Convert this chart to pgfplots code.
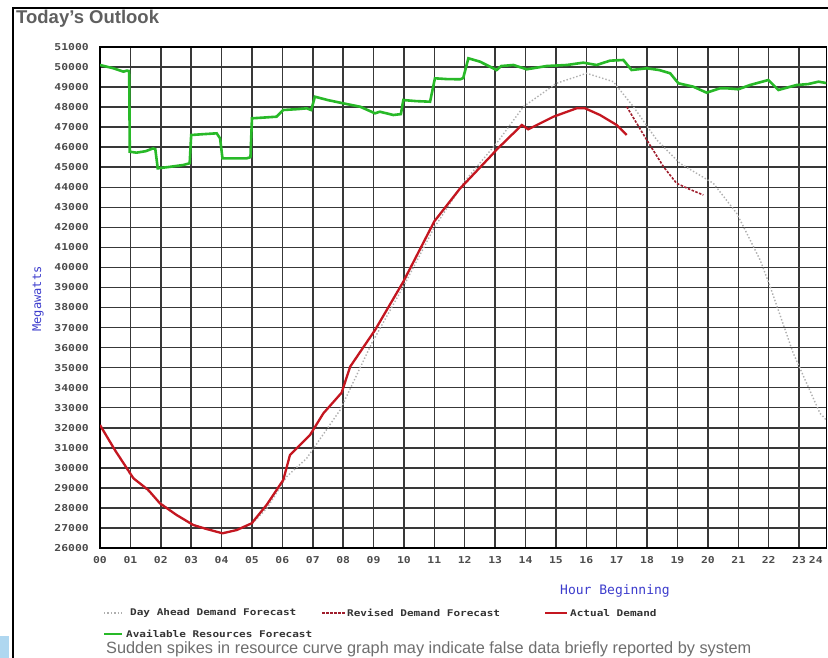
\documentclass[border=0pt]{standalone}
\usepackage{fontspec}
\setmainfont{Liberation Sans}
\newfontfamily\monof[FakeStretch=1.2]{DejaVu Sans Mono}
\newfontfamily\monob{DejaVu Sans Mono}
\usepackage{pgfplots}
\pgfplotsset{compat=1.18}

\definecolor{actred}{RGB}{196,22,32}
\definecolor{revred}{RGB}{160,30,45}
\definecolor{dagray}{RGB}{175,175,175}
\definecolor{resgreen}{RGB}{40,185,40}
\definecolor{labblue}{RGB}{60,60,205}
\definecolor{titlegray}{RGB}{95,95,95}
\definecolor{footgray}{RGB}{110,110,110}
\definecolor{cornerblue}{RGB}{175,215,240}

\begin{document}
\begin{tikzpicture}
\path[use as bounding box] (0pt,0pt) rectangle (828pt,-658pt);
\clip (0pt,0pt) rectangle (828pt,-658pt);
\fill[white] (0pt,0pt) rectangle (828pt,-658pt);
\fill[cornerblue] (0pt,-636pt) rectangle (9pt,-658pt);
\draw[black, line width=1.5pt] (13pt,-8pt) rectangle (850pt,-700pt);

\node[anchor=base west, inner sep=0pt, text=titlegray,
      font=\fontsize{18.5}{20}\selectfont\bfseries] at (16pt,-24pt) {Today's Outlook};

\begin{axis}[
  at={(100pt,-548pt)}, anchor=south west,
  scale only axis, width=726.4pt, height=501pt,
  xmin=0, xmax=23.9, ymin=26000, ymax=51000,
  xtick={0,...,23},
  xticklabels={00,01,02,03,04,05,06,07,08,09,10,11,12,13,14,15,16,17,18,19,20,21,22,23},
  extra x ticks={23.55}, extra x tick labels={24},
  extra x tick style={grid=none},
  ytick={26000,27000,...,51000},
  scaled y ticks=false,
  major tick length=0pt,
  grid=major,
  grid style={black!78, line width=1.5pt},
  axis line style={black, line width=1.8pt},
  /pgf/number format/assume math mode=true,
  /pgf/number format/set thousands separator={},
  tick label style={font=\fontsize{9.5}{10}\selectfont\monof\bfseries, text=black!70, inner sep=0pt},
  yticklabel style={xshift=-11pt},
  xticklabel style={yshift=-8pt},
  clip=true,
]
% Day Ahead Demand Forecast
\addplot[dagray, line width=1.4pt, dotted] coordinates {
(0,32100) (0.5,30850) (1,29650) (1.5,28950) (2,28250) (2.5,27650) (3,27200)
(3.5,26950) (4,26750) (4.5,26900) (5,27200) (5.5,28000) (6.14,29560) (6.8,30475)
(7.9,32886) (8.94,36215) (10,39100) (11,42000) (12,44300) (13.1,46300)
(13.93,48020) (15.02,49188) (16.01,49688) (16.89,49270) (17.55,48020)
(18.32,46360) (19.08,45196) (20.18,44198) (20.95,42700) (21.72,40371)
(22.05,39040) (22.81,35716) (23.69,32720) (23.9,32387)
};
% Revised Demand Forecast
\addplot[revred, line width=1.6pt, dash pattern=on 2.5pt off 1.5pt] coordinates {
(17.33,48020) (17.99,46360) (18.54,45027) (18.97,44198) (19.4,43900) (19.85,43615)
};
% Actual Demand
\addplot[actred, line width=2.3pt] coordinates {
(0,32138) (0.49,30890) (1.1,29478) (1.59,28894) (1.97,28230) (2.52,27647)
(3.07,27147) (3.5,26950) (4.03,26733) (4.5,26897) (4.99,27233) (5.48,28146)
(6.03,29393) (6.25,30640) (6.91,31640) (7.35,32722) (7.95,33750) (8.23,35047)
(9.05,36878) (9.98,39290) (11.0,42300) (11.85,43949) (12.01,44200)
(12.89,45611) (13.05,45880) (13.88,47108) (14.09,46893) (14.92,47522)
(15.68,47940) (15.96,47940) (16.45,47607) (17.0,47108) (17.33,46609)
};
% Available Resources Forecast
\addplot[resgreen, line width=2.6pt] coordinates {
(0,50102) (0.44,49937) (0.77,49770) (0.88,49820) (0.96,49800) (0.98,45775)
(1.2,45727) (1.5,45800) (1.75,45943) (1.82,45900) (1.9,44946) (2.3,45020)
(2.74,45112) (2.95,45197) (3.0,46609) (3.4,46650) (3.84,46693) (3.95,46443)
(4.03,45446) (4.83,45446) (4.95,45500) (5.0,47442) (5.4,47480) (5.81,47522)
(6.03,47856) (6.5,47900) (6.8,47940) (6.95,47856) (7.07,48520) (7.5,48350)
(8.0,48190) (8.56,48020) (9.05,47690) (9.21,47770) (9.65,47607) (9.9,47650)
(9.98,48353) (10.4,48300) (10.86,48270) (11.02,49438) (11.4,49400)
(11.85,49388) (11.95,49450) (12.12,50436) (12.5,50270) (12.83,50019)
(13.05,49852) (13.2,50050) (13.6,50102) (14.04,49887) (14.7,50052)
(15.36,50102) (15.9,50218) (16.34,50102) (16.78,50318) (17.22,50351)
(17.49,49852) (17.99,49937) (18.4,49850) (18.76,49688) (19.03,49189)
(19.52,49020) (19.96,48720) (20.4,48940) (20.62,48939) (21.0,48890)
(21.39,49104) (21.99,49353) (22.32,48854) (22.92,49104) (23.3,49150)
(23.64,49270) (23.9,49200)
};
\end{axis}

% axis titles
\node[rotate=90, text=labblue, inner sep=0pt, font=\fontsize{12}{13}\selectfont\monob]
  at (38pt,-299pt) {Megawatts};
\node[text=labblue, inner sep=0pt, font=\fontsize{13}{14}\selectfont\monob]
  at (615pt,-591pt) {Hour Beginning};

% legend
\begin{scope}[every node/.style={anchor=west, inner sep=0pt, text=black!80,
    font=\fontsize{9.2}{10}\selectfont\monof\bfseries}]
  \draw[dagray, line width=1.4pt, dotted] (104pt,-613pt) -- (124pt,-613pt);
  \node at (130pt,-613pt) {Day Ahead Demand Forecast};
  \draw[revred, line width=1.6pt, dash pattern=on 2.5pt off 1.5pt] (322pt,-613pt) -- (345pt,-613pt);
  \node at (347pt,-613pt) {Revised Demand Forecast};
  \draw[actred, line width=2.6pt] (545pt,-613pt) -- (567pt,-613pt);
  \node at (570pt,-613pt) {Actual Demand};
  \draw[resgreen, line width=2.6pt] (104pt,-634pt) -- (122pt,-634pt);
  \node at (126pt,-634pt) {Available Resources Forecast};
\end{scope}

\node[anchor=base west, inner sep=0pt, text=footgray, font=\fontsize{16.3}{18}\selectfont]
  at (106pt,-653pt) {Sudden spikes in resource curve graph may indicate false data briefly reported by system};
\end{tikzpicture}
\end{document}
